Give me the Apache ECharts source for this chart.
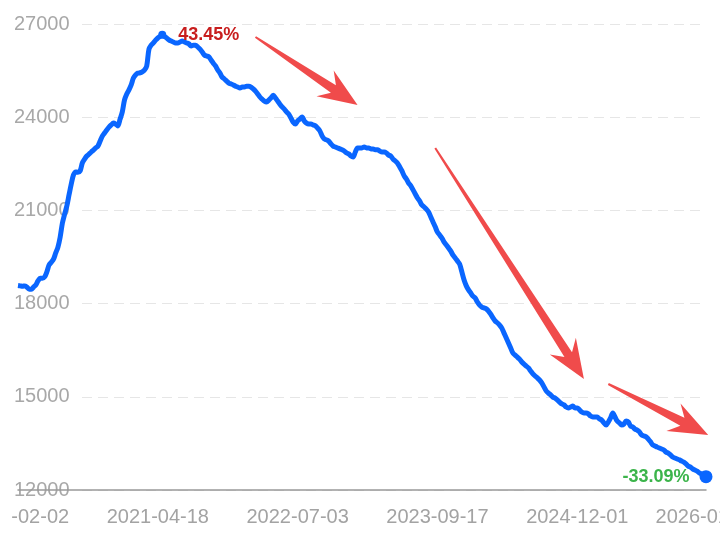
<!DOCTYPE html>
<html>
<head>
<meta charset="utf-8">
<script src="https://cdn.jsdelivr.net/npm/echarts@6/dist/echarts.min.js"></script>
<style>
html,body{margin:0;padding:0;background:#fff;}
#c{width:720px;height:537px;}
</style>
</head>
<body>
<div id="c"></div>
<script>
// Weekly values, starting 2020-02-02
var startDate = '2020-02-02';
var values = [
18580,18570,18560,18570,18530,18470,18460,18530,18600,18730,
18820,18820,18860,19020,19240,19330,19430,19630,19820,20140,
20590,20880,21140,21500,21850,22140,22240,22230,22270,22530,
22650,22750,22810,22880,22940,23010,23070,23230,23390,23490,
23590,23680,23750,23810,23780,23720,23940,24170,24560,24750,
24880,25040,25260,25360,25420,25430,25460,25520,25650,26190,
26320,26390,26480,26550,26600,26650,26600,26550,26490,26450,
26420,26390,26390,26420,26450,26420,26390,26360,26290,26320,
26320,26260,26190,26100,26000,25970,25940,25840,25740,25650,
25520,25420,25290,25230,25160,25100,25070,25040,25000,24970,
24940,24970,24970,25000,25000,24970,24910,24840,24750,24650,
24580,24520,24490,24550,24620,24710,24620,24520,24420,24330,
24260,24170,24100,23970,23840,23780,23880,23940,24010,23880,
23810,23780,23780,23750,23720,23650,23560,23400,23300,23270,
23230,23140,23070,23040,23010,22980,22950,22910,22850,22820,
22750,22720,22880,23010,23010,23010,23040,23010,23010,22980,
22980,22950,22950,22910,22880,22880,22850,22780,22750,22650,
22590,22520,22400,22270,22110,22010,21880,21790,21660,21530,
21400,21300,21170,21110,21040,20950,20790,20630,20470,20300,
20210,20110,19980,19890,19790,19690,19560,19470,19370,19270,
19020,18760,18570,18440,18340,18240,18180,18050,17950,17890,
17860,17830,17760,17660,17540,17440,17380,17310,17210,17050,
16890,16730,16570,16410,16340,16280,16210,16120,16050,15990,
15930,15830,15740,15670,15610,15540,15450,15320,15190,15120,
15060,14990,14960,14900,14830,14770,14740,14670,14640,14670,
14700,14640,14640,14580,14510,14480,14480,14450,14380,14350,
14350,14350,14290,14250,14160,14090,14190,14320,14480,14350,
14220,14160,14090,14120,14220,14190,14060,14030,13960,13930,
13870,13770,13740,13710,13640,13550,13450,13420,13380,13350,
13320,13290,13220,13190,13130,13060,13030,13000,12970,12930,
12900,12840,12770,12740,12680,12640,12610,12550,12520,12490,
12430
];
var yTicks = [12000, 15000, 18000, 21000, 24000, 27000];
var labelEvery = 63;
var peakText = '43.45%';
var lastText = '-33.09%';
// Arrow annotations in data coordinates: [tailIndex, tailValue, tipIndex, tipValue]
var arrows = [
  [107.2, 26582, 153.2, 24393],
  [187.9, 23009, 254.6, 15573],
  [265.8, 15412, 310.9, 13770]
];

// category dates (weekly)
var categories = [];
var t0 = Date.UTC(2020, 1, 2);
for (var i = 0; i < values.length; i++) {
  var d = new Date(t0 + i * 7 * 86400000);
  var mm = ('0' + (d.getUTCMonth() + 1)).slice(-2);
  var dd = ('0' + d.getUTCDate()).slice(-2);
  categories.push(d.getUTCFullYear() + '-' + mm + '-' + dd);
}
var lastIdx = values.length - 1;
var peakIdx = 0;
for (var j = 0; j < values.length; j++) if (values[j] > values[peakIdx]) peakIdx = j;

var FONT = '"Liberation Sans", Arial, sans-serif';
var chart = echarts.init(document.getElementById('c'), null, {renderer: 'canvas'});
chart.setOption({
  animation: false,
  backgroundColor: '#ffffff',
  grid: {left: 18, right: 14, top: 24, bottom: 47, containLabel: false, outerBoundsMode: 'none'},
  xAxis: {
    type: 'category',
    data: categories,
    boundaryGap: false,
    z: 3,
    axisLine: {show: true, lineStyle: {color: '#999999', width: 1.5}},
    axisTick: {show: false},
    axisLabel: {
      color: '#a3a3a3',
      fontSize: 20,
      fontFamily: FONT,
      margin: 17,
      hideOverlap: false,
      interval: function (idx) { return idx % labelEvery === 0 || idx === lastIdx; }
    },
    splitLine: {show: false}
  },
  yAxis: {
    type: 'value',
    min: yTicks[0],
    max: yTicks[yTicks.length - 1],
    interval: yTicks[1] - yTicks[0],
    z: 1,
    axisLine: {show: false},
    axisTick: {show: false},
    axisLabel: {
      color: '#a8a8a8',
      fontSize: 20,
      fontFamily: FONT,
      align: 'left',
      margin: 4,
      backgroundColor: '#ffffff',
      padding: [0, 8, 0, 0],
      formatter: function (v) { return String(v); }
    },
    splitLine: {show: true, lineStyle: {color: '#e6e6e6', width: 1, type: [10, 6]}}
  },
  series: [{
    type: 'line',
    data: values,
    showSymbol: false,
    smooth: 0.3,
    z: 2,
    lineStyle: {color: '#0a66ff', width: 5},
    itemStyle: {color: '#0a66ff'},
    markPoint: {
      symbol: 'circle',
      data: [
        {coord: [peakIdx, values[peakIdx]], symbolSize: 8,
          itemStyle: {color: '#0a66ff'},
          label: {show: true, formatter: peakText, position: 'right', distance: 12,
            color: '#c81e1e', fontSize: 18, fontWeight: 'bold', fontFamily: FONT}},
        {coord: [lastIdx, values[lastIdx]], symbolSize: 13,
          itemStyle: {color: '#0a66ff'},
          label: {show: true, formatter: lastText, position: 'left', distance: 10,
            color: '#3cb44b', fontSize: 18, fontWeight: 'bold', fontFamily: FONT}}
      ]
    }
  }]
});

function arrowPoly(tail, tip) {
  var dx = tip[0] - tail[0], dy = tip[1] - tail[1];
  var L = Math.sqrt(dx * dx + dy * dy);
  var ux = dx / L, uy = dy / L, nx = -uy, ny = ux;
  var headLen = 39, headW = 31, neckIn = 29, neckW = 9, tailW = 2;
  var bx = tip[0] - ux * headLen, by = tip[1] - uy * headLen;
  var kx = tip[0] - ux * neckIn, ky = tip[1] - uy * neckIn;
  return [
    [tail[0] + nx * tailW / 2, tail[1] + ny * tailW / 2],
    [kx + nx * neckW / 2, ky + ny * neckW / 2],
    [bx + nx * headW / 2, by + ny * headW / 2],
    [tip[0], tip[1]],
    [bx - nx * headW / 2, by - ny * headW / 2],
    [kx - nx * neckW / 2, ky - ny * neckW / 2],
    [tail[0] - nx * tailW / 2, tail[1] - ny * tailW / 2]
  ];
}
var graphics = [];
arrows.forEach(function (a) {
  var p1 = chart.convertToPixel({gridIndex: 0}, [a[0], a[1]]);
  var p2 = chart.convertToPixel({gridIndex: 0}, [a[2], a[3]]);
  graphics.push({type: 'polygon', z: 10, shape: {points: arrowPoly(p1, p2)},
    style: {fill: '#f04b4b'}});
});
// crop mask at the far left of the x label row (reference is a cropped screenshot)
graphics.push({type: 'rect', z: 20, left: 0, top: 497, shape: {width: 11, height: 40},
  style: {fill: '#ffffff'}});
chart.setOption({graphic: graphics});
</script>
</body>
</html>
